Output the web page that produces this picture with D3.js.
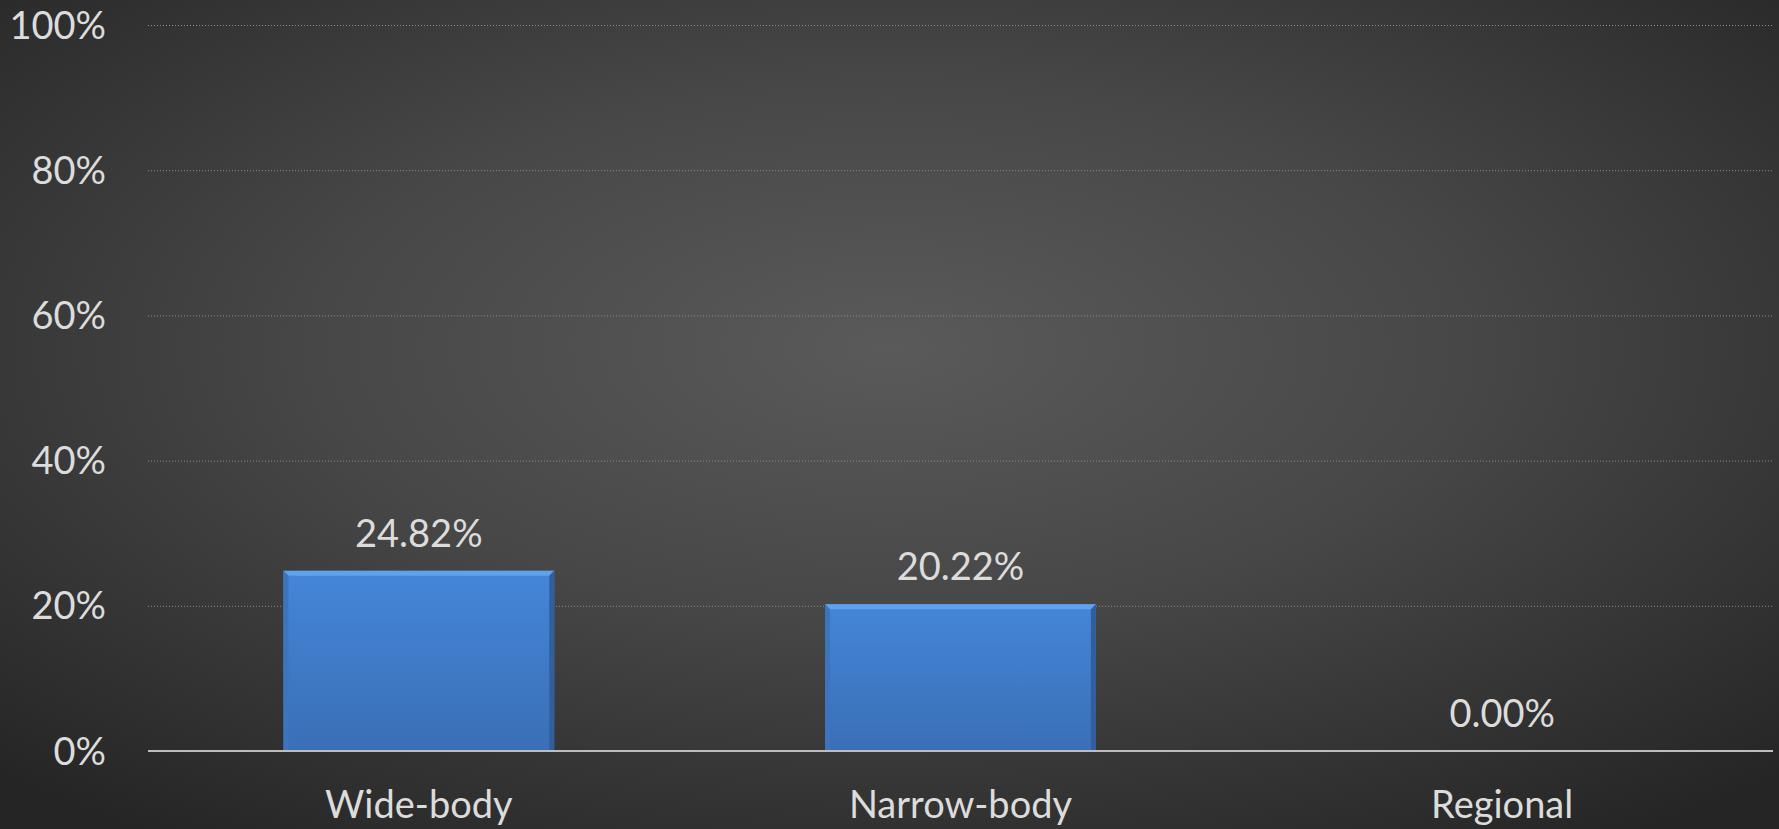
<!DOCTYPE html>
<html>
<head>
<meta charset="utf-8">
<script src="https://cdn.jsdelivr.net/npm/d3@7"></script>
<style>
  html, body { margin: 0; padding: 0; background: #2b2b2b; overflow: hidden; }
  text { font-family: Lato, "Open Sans", sans-serif; fill: #dcdcdc; }
</style>
</head>
<body>
<div id="chart"></div>
<script>
(function () {

// chart data
const categories = ["Wide-body", "Narrow-body", "Regional"];
const shares = [24.82, 20.22, 0.00];
const yTicks = [0, 20, 40, 60, 80, 100];

const W = 1779, H = 829;
const margin = {top: 25, right: 6, bottom: 78, left: 148};
const width = W - margin.left - margin.right,
   height = H - margin.top - margin.bottom;
const fontSize = 38;

const svg = d3.select("#chart").append("svg")
    .attr("width", W)
    .attr("height", H);

// background: dark radial glow, lighter in the middle
const defs = svg.append("defs");
const bg = defs.append("radialGradient")
    .attr("id", "bg")
    .attr("cx", "50%").attr("cy", "42%")
    .attr("r", "72%");
bg.append("stop").attr("offset", "0%").attr("stop-color", "#5a5a5a");
bg.append("stop").attr("offset", "45%").attr("stop-color", "#474747");
bg.append("stop").attr("offset", "100%").attr("stop-color", "#252525");

const barGrad = defs.append("linearGradient")
    .attr("id", "bar")
    .attr("x1", 0).attr("y1", 0).attr("x2", 0).attr("y2", 1);
barGrad.append("stop").attr("offset", "0%").attr("stop-color", "#4486d8");
barGrad.append("stop").attr("offset", "100%").attr("stop-color", "#3a6fb6");

svg.append("rect")
    .attr("width", W).attr("height", H)
    .attr("fill", "url(#bg)");

const g = svg.append("g")
    .attr("transform", "translate(" + margin.left + "," + margin.top + ")");

const x = d3.scaleBand()
    .domain(categories)
    .range([0, width])
    .paddingInner(0.5)
    .paddingOuter(0.25);

const y = d3.scaleLinear()
    .domain([0, 100])
    .range([height, 0]);

// dotted gridlines (not at 0, the baseline goes there)
g.selectAll(".grid")
  .data(yTicks.filter(d => d > 0))
  .join("line")
  .attr("class", "grid")
  .attr("x1", 0).attr("x2", width)
  .attr("y1", d => y(d) + 0.5).attr("y2", d => y(d) + 0.5)
  .attr("stroke", "#8c8c8c")
  .attr("stroke-width", 1)
  .attr("stroke-dasharray", "1,2");

// y tick labels
g.selectAll(".ytick")
  .data(yTicks)
  .join("text")
  .attr("class", "ytick")
  .attr("x", -42)
  .attr("y", d => y(d))
  .attr("dy", "0.36em")
  .attr("text-anchor", "end")
  .attr("font-size", fontSize)
  .text(d => d + "%");

// bars with a little bevel like the office chart
const bev = 5;
const bars = g.selectAll(".bar")
  .data(shares.map((v, i) => ({cat: categories[i], v: v})).filter(d => d.v > 0))
  .join("g")
  .attr("class", "bar")
  .attr("transform", d => "translate(" + x(d.cat) + "," + y(d.v) + ")");

bars.append("rect")
  .attr("width", x.bandwidth())
  .attr("height", d => height - y(d.v))
  .attr("fill", "url(#bar)");

// top bevel (light)
bars.append("path")
  .attr("d", d => {
    const w = x.bandwidth();
    return `M0,0 L${w},0 L${w - bev},${bev} L${bev},${bev} Z`;
  })
  .attr("fill", "#5fa2ee");
// left bevel
bars.append("path")
  .attr("d", d => {
    const h = height - y(d.v);
    return `M0,0 L${bev},${bev} L${bev},${h} L0,${h} Z`;
  })
  .attr("fill", "#3c74bd");
// right bevel (darker)
bars.append("path")
  .attr("d", d => {
    const w = x.bandwidth(), h = height - y(d.v);
    return `M${w},0 L${w - bev},${bev} L${w - bev},${h} L${w},${h} Z`;
  })
  .attr("fill", "#325f9c");

// baseline
g.append("line")
  .attr("x1", 0).attr("x2", width)
  .attr("y1", y(0)).attr("y2", y(0))
  .attr("stroke", "#bdbdbd")
  .attr("stroke-width", 2);

// value labels
g.selectAll(".val")
  .data(shares)
  .join("text")
  .attr("class", "val")
  .attr("x", (d, i) => x(categories[i]) + x.bandwidth() / 2)
  .attr("y", d => y(d) - 24)
  .attr("text-anchor", "middle")
  .attr("font-size", fontSize)
  .text(d => d.toFixed(2) + "%");

// category labels
g.selectAll(".cat")
  .data(categories)
  .join("text")
  .attr("class", "cat")
  .attr("x", d => x(d) + x.bandwidth() / 2)
  .attr("y", height + 67)
  .attr("text-anchor", "middle")
  .attr("font-size", fontSize)
  .text(d => d);

})()
</script>
</body>
</html>
